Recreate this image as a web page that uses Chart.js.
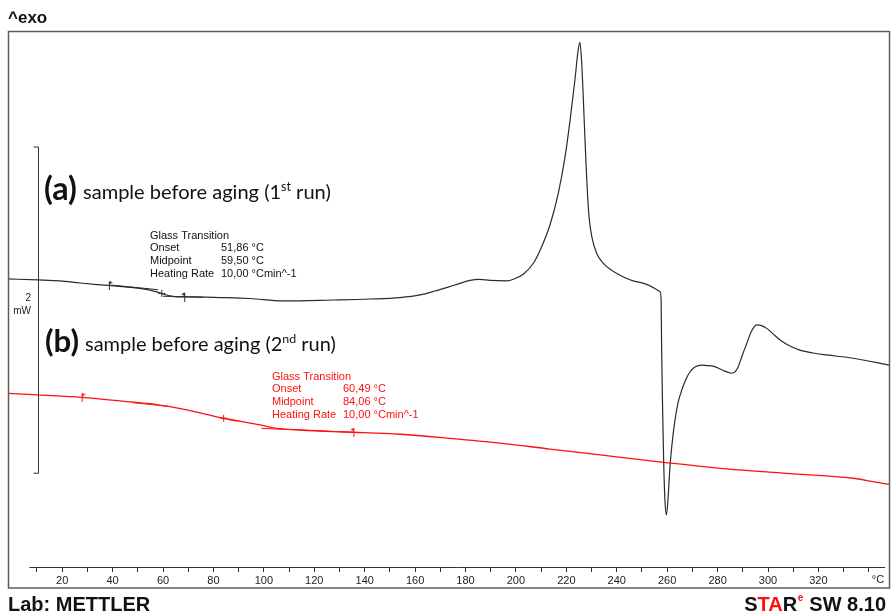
<!DOCTYPE html>
<html>
<head>
<meta charset="utf-8">
<title>DSC</title>
<script src="https://cdn.jsdelivr.net/npm/chart.js@4.4.1/dist/chart.umd.min.js"></script>
<style>
  html, body { margin: 0; padding: 0; background: #fff; }
  #wrap { width: 894px; height: 614px; }
</style>
</head>
<body>
<div id="wrap"><canvas id="dsc" width="894" height="614"></canvas></div>
<script>
// Run (a): sample before aging, 1st heating — temperature (°C) and heat flow (mW)
const tempA = [-1.5, 10.4, 19.1, 27.1, 38.2, 48.9, 54.8, 58.8, 62.8, 65.9, 70.7, 82.6, 94.5,
  107.6, 127.4, 142.1, 154.0, 162.0, 167.9, 175.8, 181.8, 185.7, 189.7, 196.5, 199.0, 202.9,
  206.9, 210.2, 213.5, 216.8, 219.5, 221.5, 223.4, 224.7, 225.4, 226.1, 226.7, 227.4, 228.1,
  229.0, 230.1, 232.0, 234.7, 240.0, 249.2, 257.2, 257.6, 257.8, 258.2, 258.6, 259.1, 259.7,
  260.3, 261.1, 262.1, 263.1, 264.3, 265.8, 267.5, 269.1, 271.0, 273.7, 275.8, 278.2, 281.8,
  285.6, 286.9, 288.2, 289.7, 291.6, 293.3, 295.5, 297.2, 299.5, 302.0, 304.8, 308.7, 312.7,
  317.9, 323.3, 333.7, 348.0];
const heatA = [1.766, 1.760, 1.754, 1.741, 1.726, 1.711, 1.698, 1.680, 1.662, 1.656, 1.656, 1.652, 1.646,
  1.631, 1.637, 1.643, 1.652, 1.668, 1.692, 1.729, 1.757, 1.763, 1.757, 1.754, 1.764, 1.795,
  1.862, 1.964, 2.097, 2.291, 2.516, 2.741, 2.986, 3.170, 3.217, 3.088, 2.884, 2.618, 2.373,
  2.148, 2.025, 1.923, 1.862, 1.800, 1.745, 1.688, 1.637, 1.330, 0.963, 0.656, 0.411, 0.319,
  0.411, 0.613, 0.779, 0.901, 1.006, 1.085, 1.153, 1.197, 1.226, 1.238, 1.235, 1.232, 1.208,
  1.188, 1.196, 1.228, 1.294, 1.372, 1.441, 1.484, 1.481, 1.463, 1.429, 1.392, 1.355, 1.330,
  1.312, 1.300, 1.280, 1.238];

// Run (b): sample before aging, 2nd heating
const tempB = [-1.5, 10.5, 27.7, 48.2, 57.5, 69.4, 83.9, 98.5, 105.1, 114.3, 127.6, 135.5,
  154.0, 173.9, 193.7, 213.5, 233.4, 258.5, 281.0, 307.4, 333.8, 340.5, 348.0];
const heatB = [1.065, 1.055, 1.040, 1.010, 0.996, 0.963, 0.912, 0.871, 0.850, 0.840, 0.830, 0.826,
  0.814, 0.789, 0.760, 0.723, 0.687, 0.642, 0.605, 0.574, 0.544, 0.527, 0.506];

// Glass-transition evaluation: tangent segments [T1, H1, T2, H2]
const tangentsA = [[40, 1.728, 58, 1.700], [60, 1.660, 76, 1.654]];
const tangentsB = [[48, 1.008, 62, 0.985], [99, 0.850, 135.5, 0.826]];
// Evaluation limits (flags) and midpoints
const limitsA = [[38.5, 1.726], [68.4, 1.656]];
const limitsB = [[27.7, 1.040], [135.5, 0.826]];
const midpointA = [59.50, 1.677];
const midpointB = [84.06, 0.912];

// Glass-transition result tables
const resultA = [['Onset', '51,86 °C'], ['Midpoint', '59,50 °C'], ['Heating Rate', '10,00 °Cmin^-1']];
const resultB = [['Onset', '60,49 °C'], ['Midpoint', '84,06 °C'], ['Heating Rate', '10,00 °Cmin^-1']];

// Temperature axis
const xTicks = [10, 20, 30, 40, 50, 60, 70, 80, 90, 100, 110, 120, 130, 140, 150, 160, 170, 180,
  190, 200, 210, 220, 230, 240, 250, 260, 270, 280, 290, 300, 310, 320, 330, 340];
const xTickLabels = [20, 40, 60, 80, 100, 120, 140, 160, 180, 200, 220, 240, 260, 280, 300, 320];

const BLACK = '#2b2b2b';
const RED = '#ff1010';
const ARIAL = "'Liberation Sans', Arial, sans-serif";
const NARROW = "'Liberation Sans Narrow', 'Liberation Sans', Arial, sans-serif";
const HUMANIST = "Lato, 'Open Sans', sans-serif";

function points(ts, hs) { return ts.map((t, i) => ({ x: t, y: hs[i] })); }

function flagIcon(color, dir) {
  const c = document.createElement('canvas');
  c.width = 8; c.height = 10;
  const g = c.getContext('2d');
  g.strokeStyle = color; g.fillStyle = color; g.lineWidth = 1;
  g.beginPath(); g.moveTo(4.5, 1); g.lineTo(4.5, 10); g.stroke();
  g.beginPath(); g.moveTo(4.5, 0.5); g.lineTo(4.5 + 3.5 * dir, 2.2); g.lineTo(4.5, 4); g.closePath(); g.fill();
  return c;
}

function tangentSets(list, color) {
  return list.map(s => ({
    data: [{ x: s[0], y: s[1] }, { x: s[2], y: s[3] }],
    borderColor: color, borderWidth: 1, pointRadius: 0, tension: 0
  }));
}

function flagSets(list, color) {
  return list.map((p, i) => ({
    data: [{ x: p[0], y: p[1] }], showLine: false,
    pointStyle: flagIcon(color, i === 0 ? 1 : -1), pointRadius: 5
  }));
}

function midSet(p, color) {
  return {
    data: [{ x: p[0], y: p[1] }], showLine: false, pointStyle: 'cross',
    pointRadius: 3.5, borderColor: color, borderWidth: 1
  };
}

// Curve caption: bold tag followed by text pieces [text, scale, raise] fitted to a width
function drawLabel(ctx, x, baseline, head, pieces, width, headWidth) {
  ctx.textAlign = 'left';
  ctx.textBaseline = 'alphabetic';
  ctx.fillStyle = '#111';
  ctx.font = 'bold 20px ' + HUMANIST;
  const hs = 20 * headWidth / ctx.measureText(head).width;
  ctx.font = 'bold ' + hs + 'px ' + HUMANIST;
  ctx.fillText(head, x, baseline + 1);
  const start = x + headWidth + 6;
  let w = 0;
  pieces.forEach(p => { ctx.font = (20 * p[1]) + 'px ' + HUMANIST; w += ctx.measureText(p[0]).width; });
  const k = width / w;
  let cx = start;
  pieces.forEach(p => {
    const size = 20 * k * p[1];
    ctx.font = size + 'px ' + HUMANIST;
    ctx.fillText(p[0], cx, baseline - p[2] * 20 * k);
    cx += ctx.measureText(p[0]).width;
  });
}

function drawTable(ctx, x, valueX, top, title, rows, color) {
  ctx.font = '11px ' + ARIAL;
  ctx.fillStyle = color;
  ctx.textAlign = 'left';
  ctx.textBaseline = 'alphabetic';
  const lh = 12.9;
  ctx.fillText(title, x, top);
  rows.forEach((r, i) => {
    ctx.fillText(r[0], x, top + lh * (i + 1));
    ctx.fillText(r[1], valueX, top + lh * (i + 1));
  });
}

const decor = {
  id: 'decor',
  beforeDraw(chart) {
    const ctx = chart.ctx;
    ctx.save();
    ctx.fillStyle = '#fff';
    ctx.fillRect(0, 0, chart.width, chart.height);
    ctx.restore();
  },
  afterDraw(chart) {
    const ctx = chart.ctx;
    const xs = chart.scales.x, ys = chart.scales.y;
    const area = chart.chartArea;
    ctx.save();

    // outer frame
    ctx.strokeStyle = '#5c5c5c';
    ctx.lineWidth = 1.5;
    ctx.strokeRect(area.left + 0.5, area.top - 0.5, area.right - area.left, area.bottom - area.top + 21.5);

    // temperature axis line
    ctx.strokeStyle = '#333';
    ctx.lineWidth = 1;
    ctx.beginPath();
    ctx.moveTo(xs.getPixelForValue(7), area.bottom + 0.5);
    ctx.lineTo(xs.getPixelForValue(346.5), area.bottom + 0.5);
    ctx.stroke();

    ctx.fillStyle = '#222';
    ctx.font = '11px ' + NARROW;
    ctx.textAlign = 'center';
    ctx.textBaseline = 'middle';
    ctx.fillText('°C', 878, area.bottom + 13);

    // 2 mW scale bar
    const bx = Math.round(xs.getPixelForValue(10.4)) + 0.5;
    const y0 = ys.getPixelForValue(0.575), y1 = ys.getPixelForValue(2.575);
    ctx.strokeStyle = '#333';
    ctx.beginPath();
    ctx.moveTo(bx - 5, y1); ctx.lineTo(bx, y1); ctx.lineTo(bx, y0); ctx.lineTo(bx - 5, y0);
    ctx.stroke();
    ctx.font = '10px ' + ARIAL;
    ctx.textAlign = 'right';
    ctx.textBaseline = 'middle';
    ctx.fillText('2', 31, 298);
    ctx.fillText('mW', 31, 311);

    // header and footer
    ctx.fillStyle = '#111';
    ctx.textAlign = 'left';
    ctx.textBaseline = 'alphabetic';
    ctx.font = 'bold 17px ' + ARIAL;
    ctx.fillText('^exo', 8, 23);
    ctx.font = 'bold 20px ' + ARIAL;
    ctx.fillText('Lab: METTLER', 8, 611);

    const parts = [['S', '#111'], ['TA', RED], ['R', '#111']];
    const tail = ' SW 8.10';
    ctx.font = 'bold 20px ' + ARIAL;
    let total = 0;
    parts.forEach(p => total += ctx.measureText(p[0]).width);
    total += ctx.measureText(tail).width;
    ctx.font = 'bold 10px ' + ARIAL;
    const eW = ctx.measureText('e').width;
    total += eW + 1;
    let cx = 886 - total;
    ctx.font = 'bold 20px ' + ARIAL;
    parts.forEach(p => { ctx.fillStyle = p[1]; ctx.fillText(p[0], cx, 611); cx += ctx.measureText(p[0]).width; });
    ctx.font = 'bold 10px ' + ARIAL;
    ctx.fillStyle = RED;
    ctx.fillText('e', cx + 0.5, 601);
    cx += eW + 1;
    ctx.font = 'bold 20px ' + ARIAL;
    ctx.fillStyle = '#111';
    ctx.fillText(tail, cx, 611);

    // curve captions
    drawLabel(ctx, 44, 199, '(a)', [['sample before aging (1', 1, 0], ['st', 0.62, 0.42], [' run)', 1, 0]], 248, 33);
    drawLabel(ctx, 45, 351, '(b)', [['sample before aging (2', 1, 0], ['nd', 0.62, 0.42], [' run)', 1, 0]], 251, 34);

    drawTable(ctx, 150, 221, 238.5, 'Glass Transition', resultA, '#111');
    drawTable(ctx, 272, 343, 379.5, 'Glass Transition', resultB, RED);

    ctx.restore();
  }
};

new Chart(document.getElementById('dsc'), {
  type: 'line',
  data: {
    datasets: [
      { data: points(tempB, heatB), borderColor: RED, borderWidth: 1.3, pointRadius: 0, cubicInterpolationMode: 'monotone' },
      ...tangentSets(tangentsB, RED),
      ...flagSets(limitsB, RED),
      midSet(midpointB, RED),
      { data: points(tempA, heatA), borderColor: BLACK, borderWidth: 1.2, pointRadius: 0, cubicInterpolationMode: 'monotone' },
      ...tangentSets(tangentsA, BLACK),
      ...flagSets(limitsA, BLACK),
      midSet(midpointA, BLACK)
    ]
  },
  options: {
    responsive: false,
    animation: false,
    devicePixelRatio: 1,
    layout: { padding: { left: 8, right: 5, top: 32, bottom: 0 }, autoPadding: false },
    plugins: { legend: { display: false }, tooltip: { enabled: false } },
    scales: {
      x: {
        type: 'linear', min: -1.5, max: 348,
        afterBuildTicks: s => { s.ticks = xTicks.map(v => ({ value: v })); },
        afterFit: s => { s.height = 47; },
        border: { display: false },
        grid: { drawOnChartArea: false, drawTicks: true, tickLength: 5, tickColor: '#333', tickWidth: 1 },
        ticks: {
          autoSkip: false, maxRotation: 0, minRotation: 0, padding: 2, color: '#222',
          font: { family: NARROW, size: 11 },
          callback: v => xTickLabels.includes(v) ? String(v) : ''
        }
      },
      y: { type: 'linear', display: false, min: 0, max: 3.28 }
    }
  },
  plugins: [decor]
});
</script>
</body>
</html>
